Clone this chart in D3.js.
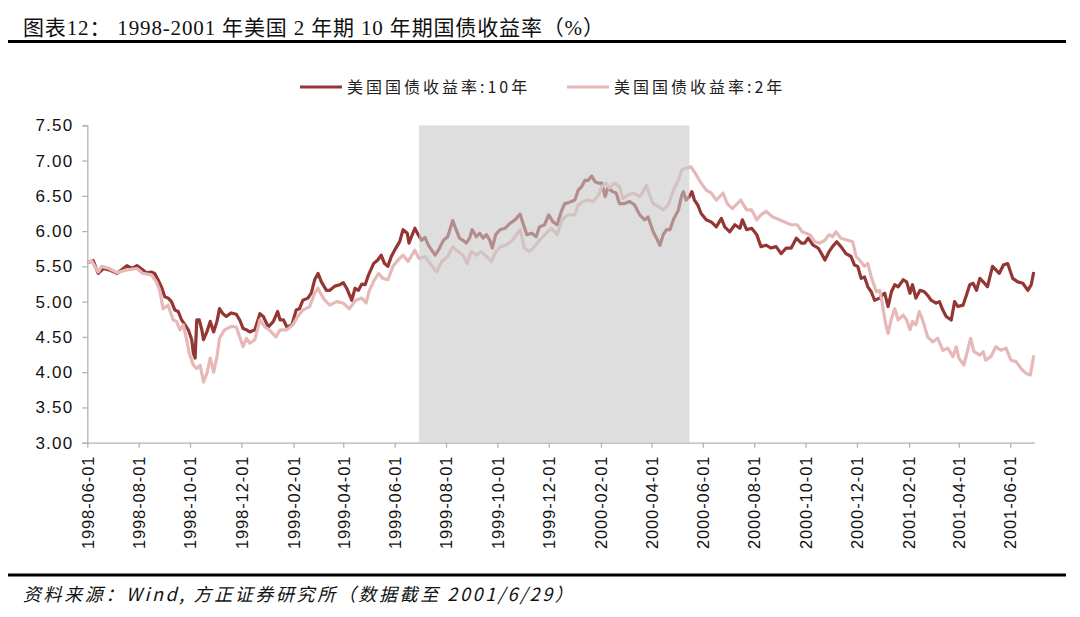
<!DOCTYPE html>
<html><head><meta charset="utf-8">
<script src="https://cdn.jsdelivr.net/npm/d3@7"></script>
<style>
html,body{margin:0;padding:0;background:#fff;}
svg{display:block;}
</style></head>
<body>
<svg id="c" width="1080" height="617"></svg>
<script>
// ---- data ----
const title = "图表12： 1998-2001 年美国 2 年期 10 年期国债收益率（%）";
const source = "资料来源：Wind, 方正证券研究所（数据截至 2001/6/29）";
const seriesNames = ["美国国债收益率:10年", "美国国债收益率:2年"];
const yTicks = [3.0, 3.5, 4.0, 4.5, 5.0, 5.5, 6.0, 6.5, 7.0, 7.5];
const xTicks = ["1998-06-01","1998-08-01","1998-10-01","1998-12-01","1999-02-01","1999-04-01","1999-06-01","1999-08-01","1999-10-01","1999-12-01","2000-02-01","2000-04-01","2000-06-01","2000-08-01","2000-10-01","2000-12-01","2001-02-01","2001-04-01","2001-06-01"];
const xDomain = ["1998-06-01", "2001-06-30"];
const shadeRange = ["1999-06-30", "2000-05-16"];

const dates10 = ["1998-06-01","1998-06-08","1998-06-14","1998-06-20","1998-06-27","1998-07-06","1998-07-18","1998-07-24","1998-07-30","1998-08-05","1998-08-10","1998-08-16","1998-08-20","1998-08-24","1998-08-28","1998-09-01","1998-09-05","1998-09-09","1998-09-13","1998-09-17","1998-09-21","1998-09-25","1998-09-29","1998-10-03","1998-10-05","1998-10-07","1998-10-09","1998-10-12","1998-10-15","1998-10-17","1998-10-21","1998-10-25","1998-10-29","1998-11-02","1998-11-05","1998-11-09","1998-11-13","1998-11-19","1998-11-25","1998-11-29","1998-12-03","1998-12-07","1998-12-11","1998-12-17","1998-12-23","1998-12-27","1999-01-02","1999-01-08","1999-01-13","1999-01-16","1999-01-20","1999-01-24","1999-01-30","1999-02-04","1999-02-08","1999-02-12","1999-02-18","1999-02-22","1999-02-26","1999-03-02","1999-03-06","1999-03-12","1999-03-16","1999-03-22","1999-03-28","1999-04-01","1999-04-05","1999-04-11","1999-04-15","1999-04-19","1999-04-23","1999-04-27","1999-05-01","1999-05-07","1999-05-12","1999-05-16","1999-05-20","1999-05-24","1999-05-28","1999-06-01","1999-06-07","1999-06-11","1999-06-16","1999-06-18","1999-06-22","1999-06-25","1999-06-29","1999-07-03","1999-07-07","1999-07-11","1999-07-19","1999-07-23","1999-07-29","1999-08-03","1999-08-09","1999-08-13","1999-08-17","1999-08-21","1999-08-25","1999-08-29","1999-09-01","1999-09-06","1999-09-10","1999-09-14","1999-09-18","1999-09-22","1999-09-25","1999-09-29","1999-10-04","1999-10-10","1999-10-16","1999-10-22","1999-10-28","1999-11-01","1999-11-05","1999-11-11","1999-11-16","1999-11-20","1999-11-26","1999-12-01","1999-12-06","1999-12-11","1999-12-16","1999-12-20","1999-12-24","2000-01-01","2000-01-05","2000-01-09","2000-01-13","2000-01-17","2000-01-21","2000-01-25","2000-01-29","2000-02-02","2000-02-06","2000-02-09","2000-02-15","2000-02-19","2000-02-23","2000-02-29","2000-03-06","2000-03-12","2000-03-18","2000-03-24","2000-03-28","2000-04-03","2000-04-07","2000-04-11","2000-04-15","2000-04-19","2000-04-23","2000-04-27","2000-05-03","2000-05-07","2000-05-09","2000-05-12","2000-05-16","2000-05-19","2000-05-22","2000-05-26","2000-05-30","2000-06-05","2000-06-11","2000-06-17","2000-06-23","2000-06-27","2000-07-03","2000-07-09","2000-07-15","2000-07-18","2000-07-23","2000-07-29","2000-08-04","2000-08-09","2000-08-15","2000-08-21","2000-08-27","2000-09-02","2000-09-08","2000-09-14","2000-09-20","2000-09-26","2000-09-30","2000-10-04","2000-10-10","2000-10-16","2000-10-20","2000-10-24","2000-10-29","2000-11-02","2000-11-07","2000-11-12","2000-11-18","2000-11-24","2000-11-28","2000-12-02","2000-12-06","2000-12-10","2000-12-14","2000-12-18","2000-12-22","2000-12-28","2000-12-31","2001-01-03","2001-01-07","2001-01-11","2001-01-15","2001-01-19","2001-01-25","2001-01-29","2001-02-02","2001-02-05","2001-02-09","2001-02-14","2001-02-19","2001-02-23","2001-02-27","2001-03-05","2001-03-09","2001-03-13","2001-03-17","2001-03-23","2001-03-27","2001-03-31","2001-04-06","2001-04-10","2001-04-14","2001-04-18","2001-04-22","2001-04-26","2001-04-30","2001-05-05","2001-05-11","2001-05-15","2001-05-19","2001-05-24","2001-05-29","2001-06-04","2001-06-10","2001-06-16","2001-06-22","2001-06-26","2001-06-29"];
const values10 = [5.55,5.58,5.40,5.47,5.45,5.40,5.51,5.47,5.51,5.46,5.41,5.42,5.40,5.31,5.21,5.07,5.05,5.00,4.88,4.86,4.74,4.67,4.60,4.46,4.27,4.20,4.74,4.74,4.60,4.46,4.57,4.72,4.57,4.72,4.90,4.83,4.79,4.84,4.82,4.74,4.62,4.60,4.57,4.60,4.83,4.79,4.64,4.72,4.86,4.74,4.74,4.64,4.67,4.88,4.90,5.02,5.05,5.12,5.31,5.40,5.28,5.16,5.16,5.22,5.24,5.27,5.19,5.02,5.19,5.16,5.25,5.24,5.38,5.54,5.59,5.66,5.54,5.50,5.64,5.73,5.85,6.02,5.97,5.83,5.95,6.04,5.95,5.87,5.91,5.80,5.66,5.73,5.87,5.92,6.15,6.02,5.90,5.87,5.83,5.90,6.02,5.92,5.97,5.90,5.95,5.87,5.76,5.95,6.02,6.04,6.11,6.16,6.24,6.09,5.95,5.97,5.92,6.06,6.09,6.23,6.13,6.09,6.28,6.39,6.40,6.44,6.58,6.63,6.72,6.72,6.78,6.70,6.68,6.68,6.49,6.61,6.56,6.54,6.39,6.39,6.42,6.37,6.23,6.16,6.20,5.99,5.90,5.80,5.95,6.02,6.02,6.16,6.30,6.51,6.56,6.44,6.49,6.56,6.44,6.37,6.25,6.16,6.13,6.06,6.18,6.06,5.99,6.09,6.04,6.16,6.02,6.04,5.95,5.78,5.80,5.76,5.78,5.68,5.76,5.76,5.90,5.83,5.83,5.90,5.80,5.76,5.68,5.59,5.71,5.78,5.85,5.78,5.68,5.64,5.52,5.50,5.33,5.35,5.21,5.14,5.02,5.05,5.09,5.12,4.93,5.14,5.24,5.21,5.31,5.28,5.12,5.24,5.05,5.16,5.14,5.09,5.02,4.98,5.00,4.88,4.79,4.74,5.00,4.93,4.95,5.09,5.24,5.26,5.16,5.33,5.28,5.21,5.50,5.45,5.40,5.52,5.54,5.33,5.28,5.26,5.16,5.24,5.42];

const dates2 = ["1998-06-01","1998-06-06","1998-06-14","1998-06-18","1998-06-27","1998-07-06","1998-07-18","1998-07-30","1998-08-06","1998-08-16","1998-08-22","1998-08-26","1998-08-30","1998-09-05","1998-09-11","1998-09-15","1998-09-19","1998-09-23","1998-09-27","1998-09-30","1998-10-05","1998-10-09","1998-10-13","1998-10-17","1998-10-21","1998-10-25","1998-10-29","1998-11-02","1998-11-05","1998-11-11","1998-11-19","1998-11-25","1998-11-29","1998-12-03","1998-12-07","1998-12-11","1998-12-17","1998-12-23","1998-12-29","1999-01-03","1999-01-11","1999-01-16","1999-01-24","1999-01-31","1999-02-06","1999-02-12","1999-02-20","1999-02-26","1999-03-02","1999-03-04","1999-03-10","1999-03-16","1999-03-24","1999-04-01","1999-04-08","1999-04-16","1999-04-23","1999-04-28","1999-05-02","1999-05-08","1999-05-13","1999-05-18","1999-05-24","1999-05-30","1999-06-05","1999-06-11","1999-06-17","1999-06-25","1999-06-30","1999-07-07","1999-07-13","1999-07-21","1999-07-27","1999-08-03","1999-08-09","1999-08-15","1999-08-21","1999-08-26","1999-08-31","1999-09-06","1999-09-12","1999-09-18","1999-09-24","1999-09-29","1999-10-05","1999-10-11","1999-10-19","1999-10-28","1999-11-02","1999-11-08","1999-11-14","1999-11-20","1999-11-28","1999-12-04","1999-12-11","1999-12-16","1999-12-20","1999-12-24","2000-01-01","2000-01-05","2000-01-11","2000-01-17","2000-01-23","2000-01-29","2000-02-02","2000-02-07","2000-02-11","2000-02-17","2000-02-23","2000-02-27","2000-03-04","2000-03-10","2000-03-18","2000-03-21","2000-03-26","2000-03-29","2000-04-03","2000-04-09","2000-04-15","2000-04-21","2000-04-27","2000-05-03","2000-05-07","2000-05-12","2000-05-18","2000-05-24","2000-05-30","2000-06-05","2000-06-11","2000-06-17","2000-06-25","2000-06-30","2000-07-06","2000-07-16","2000-07-23","2000-07-29","2000-08-04","2000-08-09","2000-08-15","2000-08-23","2000-08-31","2000-09-06","2000-09-14","2000-09-21","2000-09-27","2000-10-06","2000-10-12","2000-10-18","2000-10-24","2000-10-29","2000-11-02","2000-11-06","2000-11-12","2000-11-20","2000-11-26","2000-11-30","2000-12-04","2000-12-10","2000-12-14","2000-12-18","2000-12-24","2000-12-28","2000-12-31","2001-01-04","2001-01-07","2001-01-11","2001-01-15","2001-01-19","2001-01-25","2001-01-29","2001-02-02","2001-02-05","2001-02-09","2001-02-13","2001-02-17","2001-02-23","2001-03-01","2001-03-07","2001-03-13","2001-03-19","2001-03-25","2001-03-29","2001-04-01","2001-04-07","2001-04-11","2001-04-15","2001-04-19","2001-04-26","2001-04-30","2001-05-03","2001-05-09","2001-05-15","2001-05-21","2001-05-27","2001-06-02","2001-06-08","2001-06-14","2001-06-20","2001-06-25","2001-06-29"];
const values2 = [5.55,5.58,5.42,5.50,5.47,5.41,5.45,5.47,5.40,5.38,5.28,5.16,4.90,4.95,4.74,4.72,4.60,4.67,4.46,4.27,4.10,4.05,4.10,3.86,3.98,4.20,4.00,4.22,4.48,4.60,4.65,4.64,4.50,4.36,4.48,4.41,4.46,4.74,4.64,4.60,4.50,4.60,4.60,4.67,4.79,4.88,4.93,5.12,5.19,5.14,5.02,4.95,5.00,4.98,4.90,5.02,5.05,4.98,5.16,5.31,5.40,5.33,5.31,5.50,5.59,5.66,5.57,5.73,5.61,5.64,5.54,5.42,5.57,5.64,5.78,5.71,5.66,5.54,5.71,5.66,5.71,5.64,5.57,5.71,5.78,5.80,5.87,6.02,5.76,5.71,5.78,5.87,5.97,6.04,5.95,6.13,6.20,6.23,6.23,6.37,6.42,6.44,6.42,6.51,6.63,6.68,6.61,6.68,6.63,6.46,6.51,6.54,6.49,6.54,6.65,6.54,6.39,6.35,6.30,6.37,6.58,6.72,6.87,6.89,6.91,6.80,6.68,6.58,6.54,6.44,6.54,6.39,6.32,6.44,6.30,6.30,6.16,6.23,6.28,6.20,6.16,6.13,6.09,6.09,5.99,5.95,5.85,5.83,5.87,5.95,5.92,5.99,5.90,5.87,5.85,5.64,5.59,5.50,5.54,5.35,5.14,5.16,4.98,4.69,4.55,4.76,4.90,4.74,4.81,4.74,4.60,4.72,4.67,4.86,4.74,4.50,4.43,4.48,4.31,4.34,4.22,4.36,4.20,4.10,4.29,4.48,4.29,4.24,4.29,4.17,4.22,4.36,4.31,4.34,4.17,4.15,4.05,3.98,3.96,4.24];

const colors = ["#943634", "#E6B9B8"];

// ---- drawing ----
const parse = d3.timeParse("%Y-%m-%d");
const svg = d3.select("#c");
const m = {left: 87.3, right: 1034.6, top: 125.3, bottom: 442.7};

const x = d3.scaleTime().domain(xDomain.map(parse)).range([m.left, m.right]);
const y = d3.scaleLinear().domain([3.0, 7.5]).range([m.bottom, m.top]);

// title
svg.append("text").attr("x", 23).attr("y", 35)
  .style("font-family", "'Liberation Serif','Noto Sans CJK SC',serif")
  .style("font-size", "21px").style("letter-spacing", "0.85px").style("fill", "#111")
  .style("white-space", "pre").attr("xml:space", "preserve")
  .text(title);
svg.append("line").attr("x1", 8).attr("x2", 1066).attr("y1", 41.5).attr("y2", 41.5)
  .attr("stroke", "#000").attr("stroke-width", 3);

// legend
const legX = [300, 567];
seriesNames.forEach((n, i) => {
  const g = svg.append("g").attr("transform", `translate(${legX[i]},87)`);
  g.append("line").attr("x1", 0).attr("x2", 42).attr("y1", 0).attr("y2", 0)
    .attr("stroke", colors[i]).attr("stroke-width", 3);
  g.append("text").attr("x", 47).attr("y", 0).attr("dy", "0.36em")
    .style("font-family", "'Noto Sans CJK SC',sans-serif")
    .style("font-size", "16px").style("letter-spacing", "3px").style("fill", "#222")
    .text(n);
});

// axes
const axisColor = "#b3b3b3";
const yAxis = svg.append("g").attr("transform", `translate(${m.left},0)`)
  .call(d3.axisLeft(y).tickValues(yTicks).tickFormat(d3.format(".2f")).tickSize(5).tickPadding(9));
yAxis.select(".domain").attr("stroke", axisColor).attr("stroke-width", 1.3);
yAxis.selectAll(".tick line").attr("stroke", axisColor).attr("stroke-width", 1.3);
yAxis.selectAll(".tick text")
  .style("font-family", "'Liberation Sans',Arial,sans-serif")
  .style("font-size", "17px").style("letter-spacing", "1.2px").style("fill", "#111");

const xAxis = svg.append("g").attr("transform", `translate(0,${m.bottom})`)
  .call(d3.axisBottom(x).tickValues(xTicks.map(parse)).tickFormat(d3.timeFormat("%Y-%m-%d")).tickSize(5).tickSizeOuter(0));
xAxis.select(".domain").attr("stroke", axisColor).attr("stroke-width", 1.3);
xAxis.selectAll(".tick line").attr("stroke", axisColor).attr("stroke-width", 1.3);
xAxis.selectAll(".tick text")
  .attr("transform", "rotate(-90)")
  .attr("x", -13).attr("y", 0).attr("dy", "0.35em")
  .style("text-anchor", "end")
  .style("font-family", "'Liberation Sans',Arial,sans-serif")
  .style("font-size", "16.5px").style("letter-spacing", "0.9px").style("fill", "#111");

// lines
const line = d3.line().x(d => x(d[0])).y(d => y(d[1])).curve(d3.curveLinear);
const d10 = dates10.map((d, i) => [parse(d), values10[i]]);
const d2 = dates2.map((d, i) => [parse(d), values2[i]]);
svg.append("path").datum(d10).attr("d", line).attr("fill", "none")
  .attr("stroke", colors[0]).attr("stroke-width", 3.2).attr("stroke-linejoin", "round");
svg.append("path").datum(d2).attr("d", line).attr("fill", "none")
  .attr("stroke", colors[1]).attr("stroke-width", 3.2).attr("stroke-linejoin", "round");

// shaded period (drawn over the lines, semi-transparent)
const s0 = x(parse(shadeRange[0])), s1 = x(parse(shadeRange[1]));
svg.append("rect").attr("x", s0).attr("y", y(7.5)).attr("width", s1 - s0)
  .attr("height", y(3.0) - y(7.5)).attr("fill", "rgb(200,200,200)").attr("fill-opacity", 0.6);

// bottom rule + source
svg.append("line").attr("x1", 8).attr("x2", 1066).attr("y1", 575).attr("y2", 575)
  .attr("stroke", "#000").attr("stroke-width", 3);
svg.append("text").attr("x", 23).attr("y", 601)
  .style("font-family", "'Noto Sans CJK SC',sans-serif")
  .style("font-size", "18px").style("letter-spacing", "2.6px").style("font-style", "italic").style("fill", "#111")
  .text(source);
</script>
</body></html>
